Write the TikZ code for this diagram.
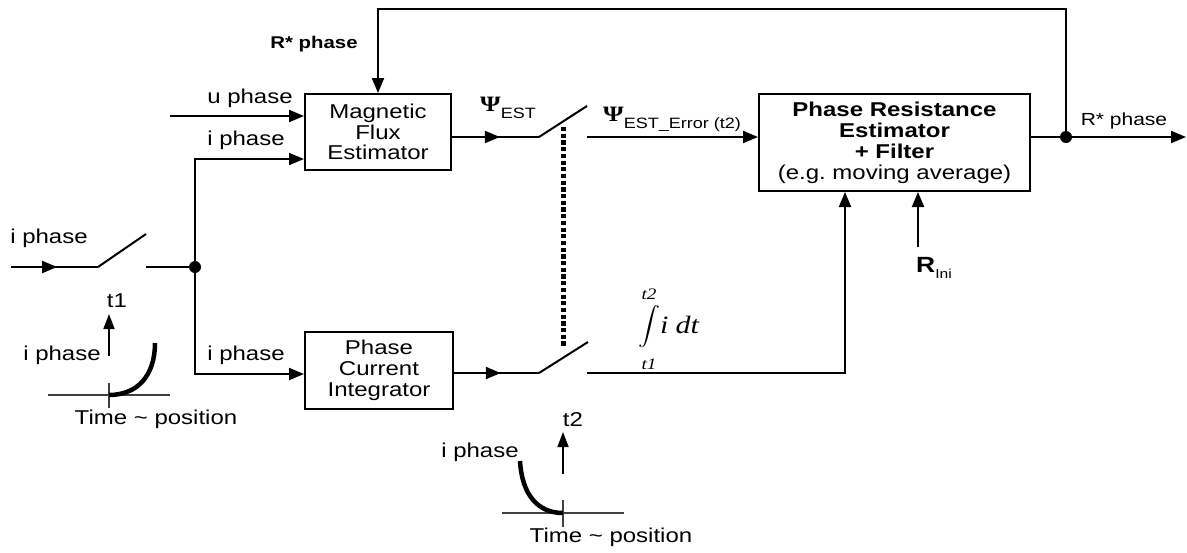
\documentclass[tikz,border=0pt]{standalone}
\usepackage{fontspec}
\usepackage{graphicx}
\setmainfont{Liberation Sans}[FakeStretch=1.2]
\newfontfamily\serifrm{Liberation Serif}[FakeStretch=1.2]
\newcommand\limfont{\fontsize{16}{16}\selectfont\serifrm\itshape}
\usetikzlibrary{arrows.meta,decorations.markings}
\tikzset{
  wire/.style={line width=2pt},
  arr/.style={wire,-{Triangle[length=15pt,width=12pt]}},
  midarr/.style={wire,postaction={decorate},decoration={markings,mark=at position #1 with {\arrow{Triangle[length=15pt,width=12pt]}}}},
  blk/.style={draw,line width=2pt,align=center,inner sep=0pt},
  lbl/.style={inner sep=0pt,font=\fontsize{20}{20}\selectfont},
  jdot/.style={circle,fill,inner sep=0pt,minimum size=12pt},
  plotaxis/.style={line width=1.4pt,draw=black!75},
  plotcurve/.style={line width=4.5pt},
  plotarr/.style={line width=1.6pt,-{Triangle[length=15pt,width=11pt]}},
  dotline/.style={line width=5pt,dash pattern=on 4.2pt off 2.5pt},
}
\begin{document}
\begin{tikzpicture}[x=1pt,y=-1pt]
\useasboundingbox (0,0) rectangle (1187,552);
% blocks
\node[blk,minimum width=146pt,minimum height=76pt,font=\fontsize{20}{20.5}\selectfont] (mfe) at (378,132) {Magnetic\\Flux\\Estimator};
\node[blk,minimum width=148pt,minimum height=77pt,font=\fontsize{20}{21}\selectfont] (pci) at (379,370) {Phase\\Current\\Integrator};
\node[blk,minimum width=271pt,minimum height=97pt,font=\fontsize{20}{21}\selectfont] (pre) at (894.5,142.5) {\textbf{Phase Resistance}\\\textbf{Estimator}\\\textbf{+ Filter}\\(e.g.\ moving average)};
% coordinates
\coordinate (inL) at (11,267);
\coordinate (sw1a) at (98,267);
\coordinate (sw1b) at (146,234);
\coordinate (sw1c) at (146,267);
\node[jdot] (j1) at (195,267) {};
\coordinate (c1) at (195,159);
\coordinate (c2) at (195,374);
\coordinate (uin) at (170,116);
\coordinate (sw2a) at (539,137);
\coordinate (sw2b) at (587,106);
\coordinate (sw2c) at (587,137);
\coordinate (sw3a) at (539,373);
\coordinate (sw3b) at (588,342);
\coordinate (sw3c) at (587,373);
\coordinate (c3) at (845,373);
\coordinate (c4) at (918,247);
\node[jdot] (j2) at (1066,137) {};
\coordinate (out) at (1186,137);
\coordinate (c5) at (1066,9);
\coordinate (c6) at (378,9);
\coordinate (d1) at (563,127);
\coordinate (d2) at (563,348);
% wires
\draw[midarr=0.53] (inL) -- (sw1a);
\draw[wire] (sw1a) -- (sw1b);
\draw[wire] (sw1c) -- (j1.center);
\draw[arr] (j1.center) -- (c1) -- (c1 -| mfe.west);
\draw[arr] (j1.center) -- (c2) -- (c2 -| pci.west);
\draw[arr] (uin) -- (uin -| mfe.west);
\draw[midarr=0.55] (sw2a -| mfe.east) -- (sw2a);
\draw[wire] (sw2a) -- (sw2b);
\draw[arr] (sw2c) -- (sw2c -| pre.west);
\draw[midarr=0.55] (sw3a -| pci.east) -- (sw3a);
\draw[wire] (sw3a) -- (sw3b);
\draw[arr] (sw3c) -- (c3) -- (c3 |- pre.south);
\draw[arr] (c4) -- (c4 |- pre.south);
\draw[wire] (j2.center -| pre.east) -- (j2.center);
\draw[arr] (j2.center) -- (out);
\draw[arr] (j2.center) -- (c5) -- (c6) -- (mfe.north);
\draw[dotline] (d1) -- (d2);
% labels
\node[inner sep=0pt,font=\fontsize{17}{17}\selectfont\bfseries] (rfb) at (314,44) {R* phase};
\node[lbl] (lu) at (250,98) {u phase};
\node[lbl] (li1) at (246,140) {i phase};
\node[lbl] (li0) at (49,238) {i phase};
\node[lbl] (li2) at (246,355) {i phase};
\node[anchor=base west,inner sep=0pt] (psi1) at (480,111) {\fontsize{22}{22}\selectfont\serifrm\bfseries Ψ\raisebox{-7pt}{\normalfont\fontsize{15}{15}\selectfont EST}};
\node[anchor=base west,inner sep=0pt] (psi2) at (603,121) {\fontsize{22}{22}\selectfont\serifrm\bfseries Ψ\raisebox{-7pt}{\normalfont\fontsize{15}{15}\selectfont EST\_Error (t2)}};
\node[inner sep=0pt,font=\fontsize{17.5}{17.5}\selectfont] (rout) at (1124,121) {R* phase};
\node[anchor=base west,inner sep=0pt] (rini) at (916,272) {\fontsize{22}{22}\selectfont\bfseries R\raisebox{-6pt}{\normalfont\fontsize{13}{13}\selectfont Ini}};
% integral
\node[inner sep=0pt] (intg) at (649,329.5) {$\mathop{\scalebox{2.2}[1.9]{$\displaystyle\int$}}\limits_{\hbox{\limfont\rule{0pt}{20pt}t1}}^{\hbox{\limfont\rule[-5pt]{0pt}{5pt}t2}}$};
\node[anchor=base west,inner sep=0pt,font=\fontsize{25}{25}\selectfont\serifrm\itshape] (idt) at (660,333) {i\kern7pt dt};
% plot 1
\draw[plotaxis] (48,395) -- (170,395);
\draw[plotaxis] (109,383) -- (109,408);
\draw[plotcurve] (109,395) .. controls (138,395) and (155,375) .. (155,343);
\draw[plotarr] (109,356) -- (109,314);
\node[lbl] (t1l) at (117,301) {t1};
\node[lbl] (p1i) at (62,355) {i phase};
\node[lbl] (p1t) at (156,419) {Time \textasciitilde\ position};
% plot 2
\draw[plotaxis] (502,513) -- (624,513);
\draw[plotaxis] (563,500) -- (563,527);
\draw[plotcurve] (520,461) .. controls (522,495) and (538,513) .. (563,513);
\draw[plotarr] (563,474) -- (563,432);
\node[lbl] (t2l) at (573,420) {t2};
\node[lbl] (p2i) at (480,452) {i phase};
\node[lbl] (p2t) at (611,537) {Time \textasciitilde\ position};
\end{tikzpicture}
\end{document}
